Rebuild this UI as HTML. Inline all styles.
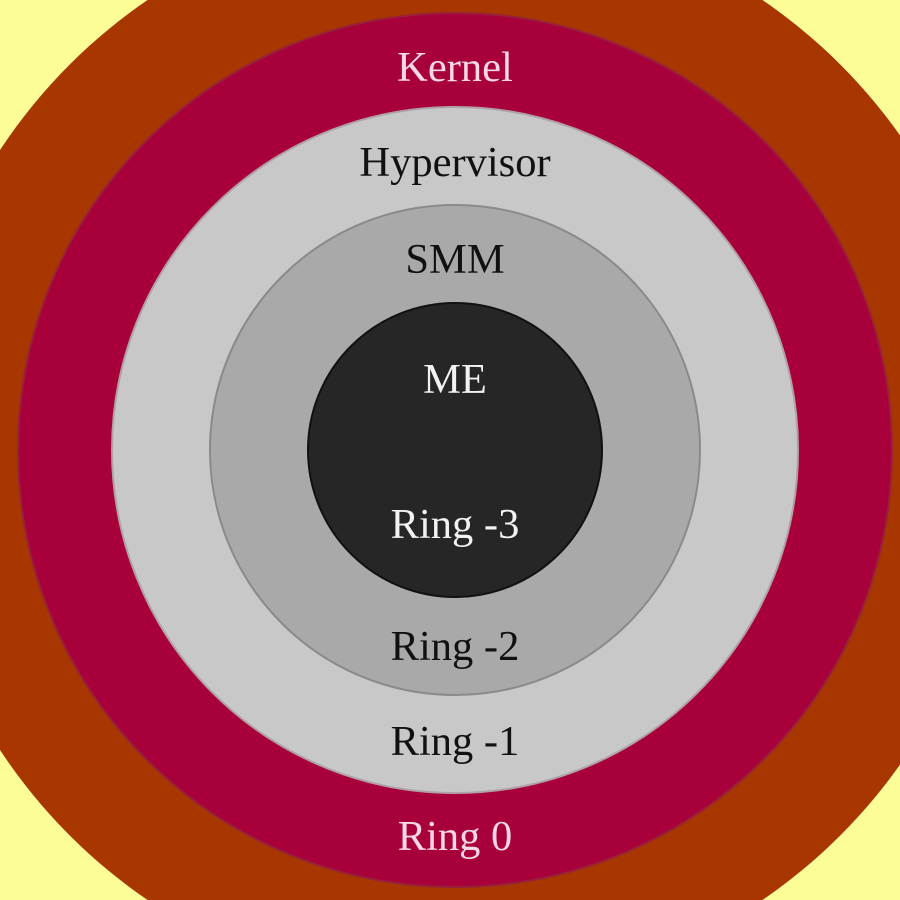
<!DOCTYPE html>
<html><head><style>html,body{margin:0;padding:0;background:#fdfd98;overflow:hidden;width:900px;height:900px}svg{display:block;position:absolute;left:0;top:0}</style></head>
<body>
<svg width="900" height="900" viewBox="0 0 900 900" xmlns="http://www.w3.org/2000/svg">
<rect width="900" height="900" fill="#fdfd98"/>
<circle cx="455" cy="450" r="545" fill="#a83600"/>
<circle cx="455" cy="450" r="437" fill="#a8003a" stroke="#98203a" stroke-width="2"/>
<circle cx="455" cy="450" r="343" fill="#c8c8c8" stroke="#b0a0a8" stroke-width="2"/>
<circle cx="455" cy="450" r="245" fill="#a9a9a9" stroke="#8a8a8a" stroke-width="2"/>
<circle cx="455" cy="450" r="147" fill="#262626" stroke="#111" stroke-width="2"/>
<g font-family="Liberation Serif, serif" font-size="42.5" text-anchor="middle">
<text x="455" y="81" fill="#f8d8e8">Kernel</text>
<text x="455" y="176" fill="#111">Hypervisor</text>
<text x="455" y="273" fill="#111">SMM</text>
<text x="455" y="393" fill="#f2f2f2">ME</text>
<text x="455" y="538" fill="#f2f2f2">Ring -3</text>
<text x="455" y="660" fill="#111">Ring -2</text>
<text x="455" y="755" fill="#111">Ring -1</text>
<text x="455" y="850" fill="#f8d8e8">Ring 0</text>
</g>
</svg>
</body></html>
